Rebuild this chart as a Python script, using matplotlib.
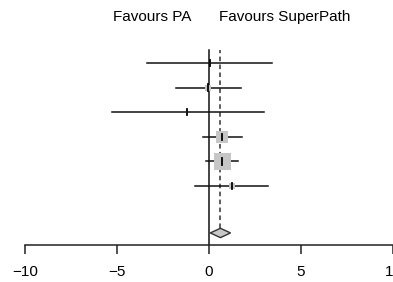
import matplotlib
matplotlib.use("Agg")
import matplotlib.pyplot as plt
import numpy as np
from matplotlib.patches import Polygon, Rectangle

plt.rcParams['font.family'] = ['Liberation Sans', 'DejaVu Sans']

# Data
estimates = [0.05, -0.04, -1.18, 0.72, 0.72, 1.23]
lower = [-3.39, -1.79, -5.29, -0.34, -0.16, -0.76]
upper = [3.41, 1.72, 2.99, 1.78, 1.59, 3.22]
weights = [0.8, 6.9, 0.8, 29.7, 55.0, 6.9]
pooled = 0.62
pooled_lower = 0.07
pooled_upper = 1.17
xticks = [-10, -5, 0, 5, 10]
left_label = "Favours PA"
right_label = "Favours SuperPath"

W, H = 393, 282
dpi = 100
fig = plt.figure(figsize=(W / dpi, H / dpi), dpi=dpi)

ax_left = 25 / W
ax_bottom = (H - 245) / H
ax = fig.add_axes([ax_left, ax_bottom, 1 - ax_left, 245 / H])

row_sp = 24.6  # pixels per row
ybot = 1.6
ax.set_xlim(-10, 10)
ax.set_ylim(ybot, ybot + 245 / row_sp)

n = len(estimates)
ys = [9 - i for i in range(n)]
ypool = 2.09
ytop = 9.53

px_per_x = (W - 25) / 20.0

# reference lines
ax.plot([0, 0], [ybot, ytop], color='#111111', lw=1.1, zorder=2)
diam_h = 0.19
ax.plot([pooled, pooled], [ypool + diam_h, ytop], color='#333333', lw=1.1,
        ls=(0, (3, 2.2)), zorder=2)

max_w = max(weights)
for y, e, lo, hi, w in zip(ys, estimates, lower, upper, weights):
    ax.plot([lo, hi], [y, y], color='#111111', lw=1.1, zorder=3)
    size_px = 17 * np.sqrt(w / max_w)
    bw = size_px / px_per_x
    bh = size_px / row_sp
    ax.add_patch(Rectangle((e - bw / 2, y - bh / 2), bw, bh,
                           facecolor='#c6c6c6', edgecolor='none', zorder=4))
    ax.plot([e, e], [y - 0.13, y + 0.13], color='black', lw=1.3, zorder=5)

diamond = Polygon([[pooled_lower, ypool], [pooled, ypool + diam_h],
                   [pooled_upper, ypool], [pooled, ypool - diam_h]],
                  closed=True, facecolor='#c8c8c8', edgecolor='#333333',
                  lw=1.0, zorder=4)
ax.add_patch(diamond)

for s in ['top', 'right', 'left']:
    ax.spines[s].set_visible(False)
ax.spines['bottom'].set_bounds(-10, 10)
ax.spines['bottom'].set_linewidth(1.1)
ax.spines['bottom'].set_color('#222222')
ax.set_yticks([])
ax.set_xticks(xticks)
ax.set_xticklabels([str(t).replace('-', '\u2212') for t in xticks])
ax.tick_params(axis='x', length=6.5, width=1.1, color='#222222',
               labelsize=11, pad=8)

fig.text(152 / W, 1 - 17 / H, left_label, ha='center', va='center', fontsize=11)
fig.text(285 / W, 1 - 17 / H, right_label, ha='center', va='center', fontsize=11)

fig.savefig("out.png", dpi=dpi)
